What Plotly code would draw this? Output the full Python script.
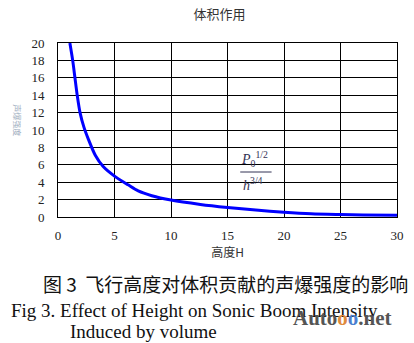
import plotly.graph_objects as go

height_h = [1.05, 1.3, 1.5, 1.7, 1.95, 2.3, 2.7, 3.3, 4.0, 5.0, 6.2, 7.1, 8.3, 10, 12.6, 15, 17.5, 20, 22.4, 25, 27, 30]
intensity = [20, 18, 16, 14, 12, 10.3, 8.9, 7.1, 5.8, 4.7, 3.7, 3.0, 2.45, 1.95, 1.45, 1.1, 0.8, 0.55, 0.37, 0.28, 0.23, 0.2]
x_ticks = [0, 5, 10, 15, 20, 25, 30]
y_ticks = [0, 2, 4, 6, 8, 10, 12, 14, 16, 18, 20]

# plot-area pixel geometry (for converting layout positions to paper coords)
L, R, T, B = 58, 404, 43, 217


def px(x):
    return (x - L) / (R - L)


def py(y):
    return (B - y) / (B - T)


fig = go.Figure()
fig.add_trace(go.Scatter(x=height_h, y=intensity, mode="lines",
                         line=dict(color="#0000FF", width=3, shape="spline", smoothing=0.8),
                         showlegend=False, hoverinfo="skip"))

axis_common = dict(showgrid=True, gridcolor="black", gridwidth=1, showline=True,
                   linecolor="black", linewidth=1, mirror=True, ticks="", zeroline=False,
                   tickfont=dict(family="Liberation Serif", size=13, color="#222222"))
fig.update_xaxes(range=[0, 30], tickvals=x_ticks, ticklabelstandoff=6,
                 title=dict(text="高度H", font=dict(family="Noto Sans CJK SC", size=12, color="#333333"), standoff=0),
                 **axis_common)
fig.update_yaxes(range=[0, 20], tickvals=y_ticks, ticklabelstandoff=10, **axis_common)

fig.update_layout(
    width=414, height=343,
    margin=dict(l=L, r=414 - R, t=T, b=343 - B),
    plot_bgcolor="white", paper_bgcolor="white",
    title=dict(text="体积作用", x=0.53, xanchor="center", y=1 - 14 / 343, yanchor="middle",
               font=dict(family="Noto Sans CJK SC", size=13, color="#333333")),
)


def note(x, y, text, font, xanchor="center", **kw):
    return dict(x=px(x), y=py(y), xref="paper", yref="paper", text=text, showarrow=False,
                xanchor=xanchor, yanchor="middle", font=font, **kw)


ann = [
    note(259, 159, "<i>P</i><sub>0</sub><sup>1/2</sup>",
         dict(family="Liberation Serif", size=14, color="#333355")),
    note(257, 184, "<i>h</i><sup>3/4</sup>",
         dict(family="Liberation Serif", size=14, color="#333355")),
    note(17, 120, "声爆强度", dict(family="Noto Sans CJK SC", size=8, color="#A0AEC0"), textangle=90),
    note(229, 283, "图 3  飞行高度对体积贡献的声爆强度的影响",
         dict(family="Noto Sans CJK SC", size=19, color="#111111")),
    note(8, 310, "Fig 3. Effect of Height on Sonic Boom Intensity",
         dict(family="Liberation Serif", size=19, color="#111111"), xanchor="left"),
    note(68, 331, "Induced by volume",
         dict(family="Liberation Serif", size=19, color="#111111"), xanchor="left"),
    note(348, 318, "<b>Auto<span style='color:#E08A3C'>o</span><span style='color:#4A7FD0'>o</span>.net</b>",
         dict(family="Liberation Serif", size=21, color="#555555")),
]
fig.update_layout(annotations=ann)

fig.add_shape(type="line", xref="paper", yref="paper",
              x0=px(244), x1=px(276), y0=py(172), y1=py(172),
              line=dict(color="#333355", width=1))

fig.write_html("out.html")
